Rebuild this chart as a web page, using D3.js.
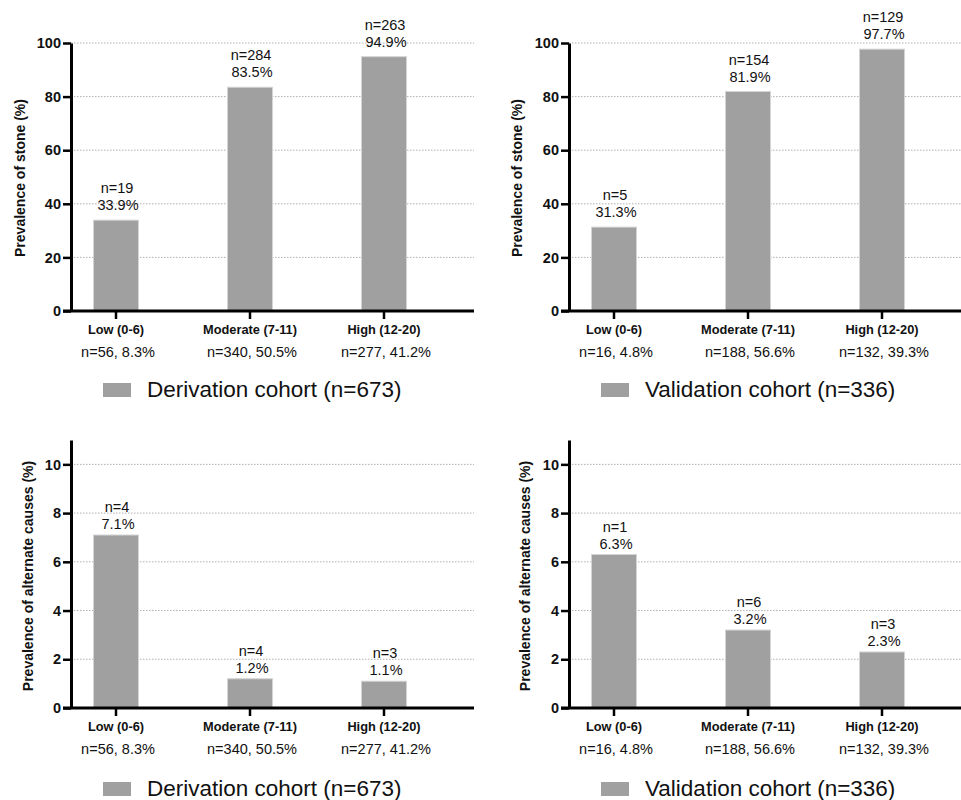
<!DOCTYPE html>
<html><head><meta charset="utf-8">
<script src="https://cdn.jsdelivr.net/npm/d3@7"></script>
<style>body{margin:0;background:#fff}svg{display:block}text{font-family:"Liberation Sans",Arial,sans-serif;fill:#111}</style>
</head><body><svg id="c" width="961" height="800"></svg>
<script>
const categories = ["Low (0-6)", "Moderate (7-11)", "High (12-20)"];
const derivStoneValues = [33.9, 83.5, 94.9];
const derivStoneN = [19, 284, 263];
const validStoneValues = [31.3, 81.9, 97.7];
const validStoneN = [5, 154, 129];
const derivAltValues = [7.1, 1.2, 1.1];
const derivAltN = [4, 4, 3];
const validAltValues = [6.3, 3.2, 2.3];
const validAltN = [1, 6, 3];
const derivGroupLabels = ["n=56, 8.3%", "n=340, 50.5%", "n=277, 41.2%"];
const validGroupLabels = ["n=16, 4.8%", "n=188, 56.6%", "n=132, 39.3%"];
const stoneTicks = [0, 20, 40, 60, 80, 100];
const altTicks = [0, 2, 4, 6, 8, 10];
const stoneTitle = "Prevalence of stone (%)";
const altTitle = "Prevalence of alternate causes (%)";
const derivLegend = "Derivation cohort (n=673)";
const validLegend = "Validation cohort (n=336)";

const svg = d3.select("#c");
const barColor = "#a0a0a0";

const panels = [
  {ax:71, right:474, y0:311, yTop:43, max:100, ticks:stoneTicks, vals:derivStoneValues, ns:derivStoneN, groups:derivGroupLabels, title:stoneTitle, titleX:20, titleY:178, catY:334, subY:357, legend:derivLegend, legX:103, legY:383, lblOff:10},
  {ax:569, right:961, y0:311, yTop:43, max:100, ticks:stoneTicks, vals:validStoneValues, ns:validStoneN, groups:validGroupLabels, title:stoneTitle, titleX:517, titleY:178, catY:334, subY:357, legend:validLegend, legX:601, legY:383, lblOff:10},
  {ax:71, right:474, y0:708, yTop:440, max:11, ticks:altTicks, vals:derivAltValues, ns:derivAltN, groups:derivGroupLabels, title:altTitle, titleX:28, titleY:576, catY:731, subY:754, legend:derivLegend, legX:103, legY:782, lblOff:6},
  {ax:569, right:961, y0:708, yTop:440, max:11, ticks:altTicks, vals:validAltValues, ns:validAltN, groups:validGroupLabels, title:altTitle, titleX:525, titleY:576, catY:731, subY:754, legend:validLegend, legX:601, legY:782, lblOff:6}
];

panels.forEach(p => {
  const g = svg.append("g");
  const y = d3.scaleLinear().domain([0, p.max]).range([p.y0, p.yTop]);
  const x = d3.scalePoint().domain(categories).range([p.ax + 45, p.ax + 313]);
  const bw = 45;

  // gridlines
  g.selectAll("line.grid").data(p.ticks.filter(t => t > 0)).join("line")
    .attr("x1", p.ax).attr("x2", p.right)
    .attr("y1", d => y(d)).attr("y2", d => y(d))
    .attr("stroke", "#b0b0b0").attr("stroke-width", 1).attr("stroke-dasharray", "1.5,1.5");

  // bars
  const data = categories.map((c, i) => ({c, v: p.vals[i], n: p.ns[i], grp: p.groups[i]}));
  g.selectAll("rect.bar").data(data).join("rect")
    .attr("x", d => x(d.c) - bw / 2).attr("width", bw)
    .attr("y", d => y(d.v)).attr("height", d => y(0) - y(d.v))
    .attr("fill", barColor).attr("stroke", "#d4d4d4").attr("stroke-width", 1);

  // value labels
  data.forEach(d => {
    g.append("text").attr("x", x(d.c) + 1).attr("y", y(d.v) - p.lblOff - 17)
      .attr("text-anchor", "middle").attr("font-size", 14.5).text("n=" + d.n);
    g.append("text").attr("x", x(d.c) + 2).attr("y", y(d.v) - p.lblOff)
      .attr("text-anchor", "middle").attr("font-size", 14.5).text(d3.format(".1f")(d.v) + "%");
  });

  // y axis
  const yAxis = d3.axisLeft(y).tickValues(p.ticks).tickSize(8).tickSizeOuter(0).tickPadding(2);
  const ga = g.append("g").attr("transform", `translate(${p.ax},0)`).call(yAxis);
  ga.select(".domain").attr("stroke", "#000").attr("stroke-width", 3);
  ga.selectAll(".tick line").attr("stroke", "#000").attr("stroke-width", 2.5);
  ga.selectAll(".tick text").attr("font-size", 14.5).attr("font-weight", "bold")
    .attr("font-family", "Liberation Sans, Arial, sans-serif").attr("fill", "#111");

  // x axis line
  g.append("line").attr("x1", p.ax - 8).attr("x2", p.right).attr("y1", y(0)).attr("y2", y(0))
    .attr("stroke", "#000").attr("stroke-width", 3);
  g.selectAll("line.xt").data(categories).join("line")
    .attr("x1", d => x(d)).attr("x2", d => x(d)).attr("y1", y(0)).attr("y2", y(0) + 8)
    .attr("stroke", "#000").attr("stroke-width", 2.5);

  // category labels
  g.selectAll("text.cat").data(data).join("text")
    .attr("x", d => x(d.c)).attr("y", p.catY).attr("text-anchor", "middle")
    .attr("font-size", 12.8).attr("font-weight", "bold").text(d => d.c);
  g.selectAll("text.sub").data(data).join("text")
    .attr("x", d => x(d.c) + 2).attr("y", p.subY).attr("text-anchor", "middle")
    .attr("font-size", 14.5).text(d => d.grp);

  // y title
  g.append("text").attr("transform", `translate(${p.titleX},${p.titleY}) rotate(-90)`)
    .attr("text-anchor", "middle").attr("dominant-baseline", "central")
    .attr("font-size", 14).attr("font-weight", "bold").text(p.title);

  // legend
  g.append("rect").attr("x", p.legX).attr("y", p.legY).attr("width", 28).attr("height", 14)
    .attr("fill", barColor);
  g.append("text").attr("x", p.legX + 44).attr("y", p.legY + 14).attr("font-size", 22.5)
    .text(p.legend);
});
</script></body></html>
